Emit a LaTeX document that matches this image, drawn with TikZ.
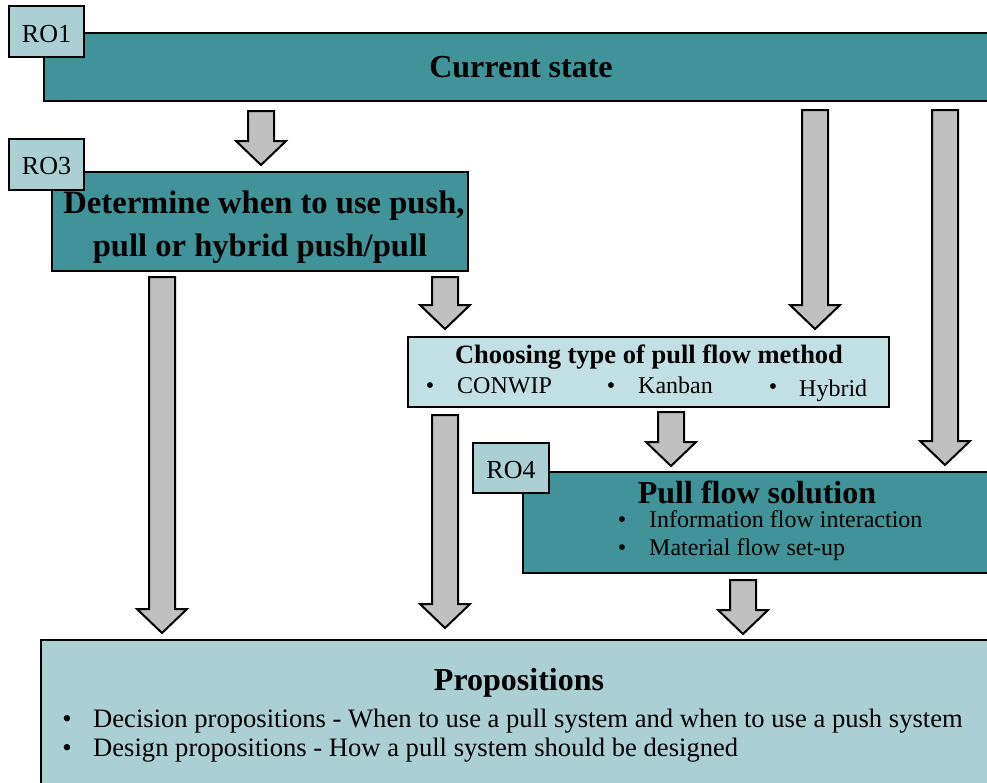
\documentclass[tikz,border=0pt]{standalone}
\usepackage{fontspec}
\setmainfont{Liberation Serif}
\usetikzlibrary{calc}

\definecolor{tealbox}{RGB}{64,147,153}
\definecolor{tagfill}{RGB}{170,208,212}
\definecolor{lightbox}{RGB}{193,224,228}
\definecolor{propfill}{RGB}{171,208,212}
\definecolor{arrowgray}{RGB}{192,192,192}

\tikzset{
  box/.style={draw=black, line width=2.2pt, rectangle, outer sep=0pt, inner sep=0pt, anchor=north west},
  mainbox/.style={box, fill=tealbox},
  tagbox/.style={box, fill=tagfill},
  pickbox/.style={box, fill=lightbox},
  propbox/.style={box, fill=propfill},
  txt/.style={inner sep=0pt, anchor=base},
  lefttxt/.style={inner sep=0pt, anchor=base west},
  bigtitle/.style={font=\fontsize{32}{38}\selectfont\bfseries},
  dettitle/.style={font=\fontsize{32.6}{38}\selectfont\bfseries},
  midtitle/.style={font=\fontsize{26.5}{31}\selectfont\bfseries},
  body/.style={font=\fontsize{24}{29}\selectfont},
  propbody/.style={font=\fontsize{26.6}{31}\selectfont},
  taglabel/.style={font=\fontsize{26}{31}\selectfont},
  tipgap/.initial=7pt,
  startgap/.initial=8pt,
  % wide hollow block arrow running straight down from start to target
  flowarrow/.style={draw=black, fill=arrowgray, line width=2pt, line join=miter,
    to path={let \p1=(\tikztostart), \p2=(\tikztotarget) in
      (\x1-13pt,\y1-\pgfkeysvalueof{/tikz/startgap})
      -- (\x1+13pt,\y1-\pgfkeysvalueof{/tikz/startgap})
      -- (\x1+13pt,\y2+\pgfkeysvalueof{/tikz/tipgap}+24pt)
      -- (\x1+25pt,\y2+\pgfkeysvalueof{/tikz/tipgap}+24pt)
      -- (\x1,\y2+\pgfkeysvalueof{/tikz/tipgap})
      -- (\x1-25pt,\y2+\pgfkeysvalueof{/tikz/tipgap}+24pt)
      -- (\x1-13pt,\y2+\pgfkeysvalueof{/tikz/tipgap}+24pt)
      -- cycle}}
}

\begin{document}
\begin{tikzpicture}[x=1pt, y=-1pt]
\useasboundingbox (0,0) rectangle (987,782);
\clip (0,0) rectangle (987,782);

% main blocks
\node[mainbox, minimum width=954pt, minimum height=68pt] (cs) at (44,33) {};
\node[mainbox, minimum width=416pt, minimum height=99pt] (det) at (52,172) {};
\node[pickbox, minimum width=481pt, minimum height=70pt] (pick) at (408,337) {};
\node[mainbox, minimum width=468pt, minimum height=101pt] (pull) at (523,472) {};
\node[propbox, minimum width=957pt, minimum height=160pt] (prop) at (41,640) {};

% research objective tags
\node[tagbox, minimum width=75pt, minimum height=51pt] (ro1) at (9,6) {};
\node[tagbox, minimum width=75pt, minimum height=51pt] (ro3) at (9,139) {};
\node[tagbox, minimum width=76pt, minimum height=50pt] (ro4) at (473,443) {};
\node[txt, taglabel] (ro1t) at (46.5,42) {RO1};
\node[txt, taglabel] (ro3t) at (46.5,174) {RO3};
\node[txt, taglabel] (ro4t) at (511,478) {RO4};

% block texts
\node[txt, bigtitle] (cst) at (521,77) {Current state};
\node[txt, dettitle] (dett1) at (264,213) {Determine when to use push,};
\node[txt, dettitle] (dett2) at (260,256) {pull or hybrid push/pull};

\node[txt, midtitle] (pickt) at (649,363) {Choosing type of pull flow method};
\node[txt, body] (pb1) at (430,393) {\textbullet};
\node[lefttxt, body] (pw1) at (457,393) {CONWIP};
\node[txt, body] (pb2) at (611,393) {\textbullet};
\node[lefttxt, body] (pw2) at (638,393) {Kanban};
\node[txt, body] (pb3) at (773,394) {\textbullet};
\node[lefttxt, body] (pw3) at (799,396) {Hybrid};

\node[txt, bigtitle] (pullt) at (757,503) {Pull flow solution};
\node[txt, body] (ub1) at (622,527) {\textbullet};
\node[lefttxt, body] (uw1) at (649,527) {Information flow interaction};
\node[txt, body] (ub2) at (622,555) {\textbullet};
\node[lefttxt, body] (uw2) at (649,555) {Material flow set-up};

\node[txt, bigtitle] (propt) at (519,690) {Propositions};
\node[txt, propbody] (qb1) at (67,727) {\textbullet};
\node[lefttxt, propbody] (qw1) at (93,727) {Decision propositions - When to use a pull system and when to use a push system};
\node[txt, propbody] (qb2) at (67,756) {\textbullet};
\node[lefttxt, propbody] (qw2) at (93,756) {Design propositions - How a pull system should be designed};

% x positions of the arrow columns
\coordinate (xa) at (261,0);
\coordinate (xb) at (815,0);
\coordinate (xc) at (945,0);
\coordinate (xd) at (162,0);
\coordinate (xe) at (445,0);
\coordinate (xf) at (445,0);
\coordinate (xg) at (671,0);
\coordinate (xh) at (743,0);

% arrows
\draw[flowarrow, startgap=10pt] (cs.south -| xa) to (det.north -| xa);
\draw[flowarrow, startgap=9pt, tipgap=8pt] (cs.south -| xb) to (pick.north -| xb);
\draw[flowarrow, startgap=9pt] (cs.south -| xc) to (pull.north -| xc);
\draw[flowarrow, startgap=6pt] (det.south -| xd) to (prop.north -| xd);
\draw[flowarrow, startgap=6pt, tipgap=8pt] (det.south -| xe) to (pick.north -| xe);
\draw[flowarrow, tipgap=12pt] (pick.south -| xf) to (prop.north -| xf);
\draw[flowarrow, startgap=5pt, tipgap=6pt] (pick.south -| xg) to (pull.north -| xg);
\draw[flowarrow, startgap=7pt, tipgap=6pt] (pull.south -| xh) to (prop.north -| xh);
\end{tikzpicture}
\end{document}
